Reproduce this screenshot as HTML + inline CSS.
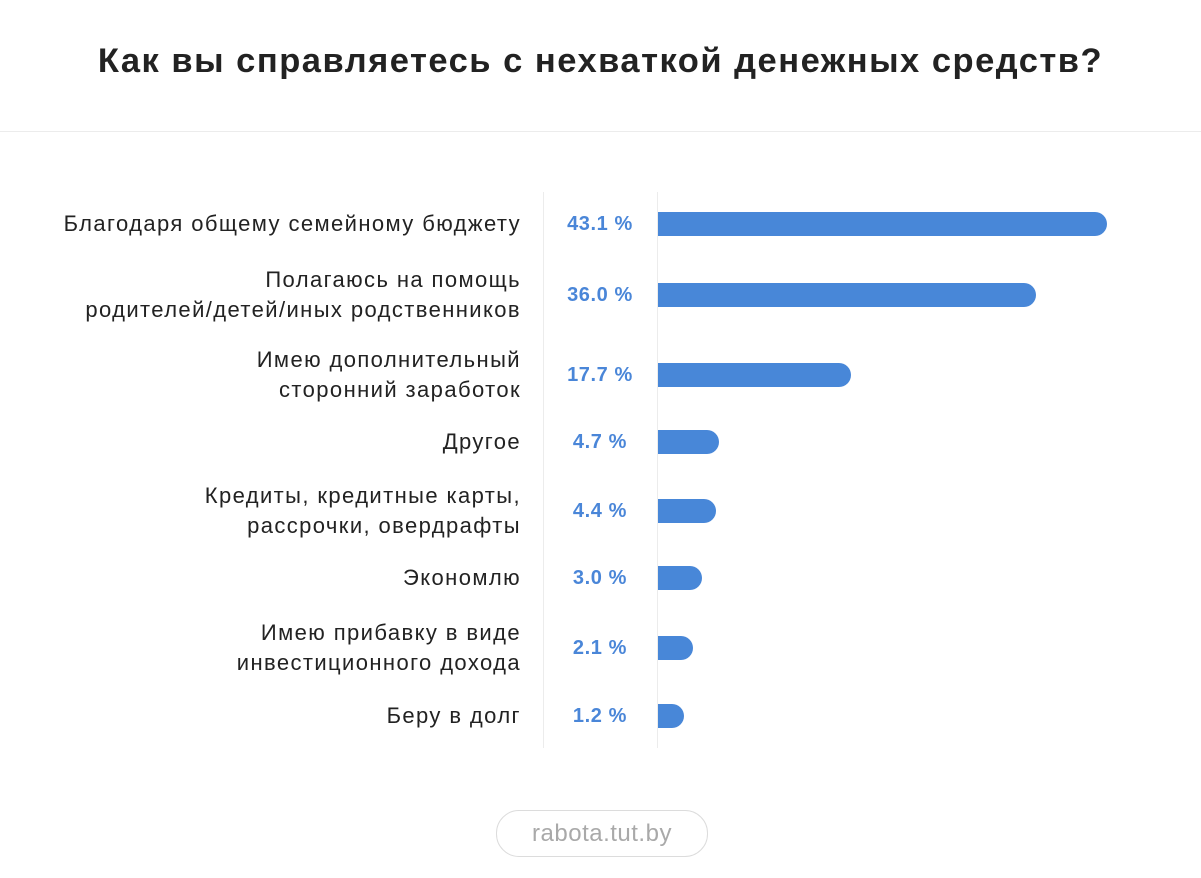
<!DOCTYPE html>
<html><head><meta charset="utf-8">
<style>
body{margin:0;width:1201px;height:878px;background:#fff;font-family:"Liberation Sans","DejaVu Sans",sans-serif;position:relative;overflow:hidden}
#title{position:absolute;top:42px;left:0;width:1201px;text-align:center;font-size:34.5px;font-weight:bold;color:#222;letter-spacing:1.5px}
#divider{position:absolute;top:131px;left:0;width:1201px;height:1px;background:#ececec}
.vl{position:absolute;top:192px;height:556px;width:1px;background:#ececec}
.lab{position:absolute;right:680px;text-align:right;font-size:22px;letter-spacing:1.4px;color:#222;line-height:30px;white-space:nowrap}
.val{position:absolute;left:545px;width:110px;text-align:center;font-size:20px;font-weight:bold;color:#4a86d8;line-height:24px;letter-spacing:0.6px}
.bar{position:absolute;left:658px;height:24px;background:#4887d8;border-radius:0 12px 12px 0}
#footer{position:absolute;left:496px;top:810px;width:210px;height:45px;border:1px solid #dcdcdc;border-radius:23px;text-align:center;line-height:45px;font-size:24px;color:#a9a9a9;letter-spacing:0.5px}
</style></head><body>
<div id="title">Как вы справляетесь с нехваткой денежных средств?</div>
<div id="divider"></div>
<div class="vl" style="left:543px"></div>
<div class="vl" style="left:657px"></div>
<div id="chart"></div>
<div id="footer">rabota.tut.by</div>
<script>
const categories=["Благодаря общему семейному бюджету","Полагаюсь на помощь<br>родителей/детей/иных родственников","Имею дополнительный<br>сторонний заработок","Другое","Кредиты, кредитные карты,<br>рассрочки, овердрафты","Экономлю","Имею прибавку в виде<br>инвестиционного дохода","Беру в долг"];
const values=[43.1,36.0,17.7,4.7,4.4,3.0,2.1,1.2];
const valueLabels=["43.1 %","36.0 %","17.7 %","4.7 %","4.4 %","3.0 %","2.1 %","1.2 %"];
const rowCenters=[224,295,375,442,511,578,648,716];
function xLen(v){return 14+10.1*v;}
const chart=document.getElementById('chart');
categories.forEach((c,i)=>{
  const cy=rowCenters[i];
  const lines=c.split('<br>').length;
  const l=document.createElement('div');
  l.className='lab';l.innerHTML=c;l.style.top=(cy-lines*15)+'px';
  
  
  chart.appendChild(l);
  const v=document.createElement('div');
  v.className='val';v.textContent=valueLabels[i];v.style.top=(cy-12)+'px';
  
  
  chart.appendChild(v);
  const b=document.createElement('div');
  b.className='bar';b.style.top=(cy-12)+'px';b.style.width=xLen(values[i])+'px';
  
  
  chart.appendChild(b);
});
</script>
</body></html>
